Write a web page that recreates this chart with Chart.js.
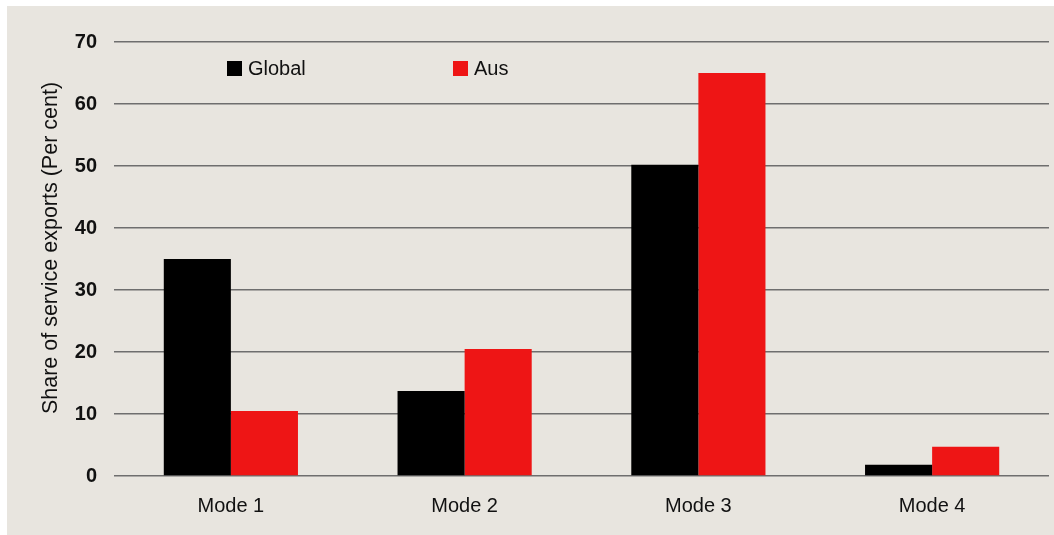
<!DOCTYPE html>
<html>
<head>
<meta charset="utf-8">
<script src="https://cdn.jsdelivr.net/npm/chart.js@4.4.0/dist/chart.umd.min.js"></script>
<style>
  html, body { margin: 0; padding: 0; background: #ffffff; }
  #wrap { position: absolute; left: 7px; top: 6px; width: 1047px; height: 529px; background: #E8E5DF; }
  canvas { display: block; }
</style>
</head>
<body>
<div id="wrap"><canvas id="c" width="1047" height="529"></canvas></div>
<script>
const categories = ['Mode 1', 'Mode 2', 'Mode 3', 'Mode 4'];
const globalValues = [35.0, 13.7, 50.2, 1.8];
const ausValues = [10.5, 20.5, 65.0, 4.7];
const seriesNames = ['Global', 'Aus'];
const yTitle = 'Share of service exports (Per cent)';

const FONT = '"Liberation Sans", Arial, Helvetica, sans-serif';

const legendPlugin = {
  id: 'customLegend',
  afterDraw(chart) {
    const ctx = chart.ctx;
    const items = [
      { x: 220, color: chart.data.datasets[0].backgroundColor, label: chart.data.datasets[0].label },
      { x: 446, color: chart.data.datasets[1].backgroundColor, label: chart.data.datasets[1].label }
    ];
    ctx.save();
    ctx.font = '20px ' + FONT;
    ctx.textBaseline = 'alphabetic';
    ctx.textAlign = 'left';
    items.forEach(it => {
      ctx.fillStyle = it.color;
      ctx.fillRect(it.x, 55, 15, 15);
      ctx.fillStyle = '#111111';
      ctx.fillText(it.label, it.x + 21, 69);
    });
    // y-axis title
    ctx.translate(50, 242);
    ctx.rotate(-Math.PI / 2);
    ctx.font = '21.5px ' + FONT;
    ctx.textAlign = 'center';
    ctx.textBaseline = 'alphabetic';
    ctx.fillStyle = '#111111';
    ctx.fillText(yTitle, 0, 0);
    ctx.restore();
  }
};

new Chart(document.getElementById('c'), {
  type: 'bar',
  data: {
    labels: categories,
    datasets: [
      { label: seriesNames[0], data: globalValues, backgroundColor: '#000000', borderWidth: 0 },
      { label: seriesNames[1], data: ausValues, backgroundColor: '#EE1515', borderWidth: 0 }
    ]
  },
  options: {
    responsive: false,
    animation: false,
    layout: { padding: { left: 0, right: 5, top: 36, bottom: 0 } },
    plugins: { legend: { display: false }, tooltip: { enabled: false } },
    datasets: { bar: { categoryPercentage: 0.574, barPercentage: 1.0 } },
    scales: {
      x: {
        grid: { display: false, drawTicks: false },
        border: { display: false },
        ticks: { color: '#111111', font: { family: FONT, size: 20 }, padding: 18 },
        afterFit(scale) { scale.height = 59; }
      },
      y: {
        min: 0, max: 70,
        ticks: { stepSize: 10, color: '#111111', font: { family: FONT, size: 20, weight: 'bold' }, padding: 17 },
        grid: { color: '#6e6e6e', lineWidth: 1.6, drawTicks: false },
        border: { display: false },
        title: { display: false },
        afterFit(scale) { scale.width = 107; }
      }
    }
  },
  plugins: [legendPlugin]
});
</script>
</body>
</html>
